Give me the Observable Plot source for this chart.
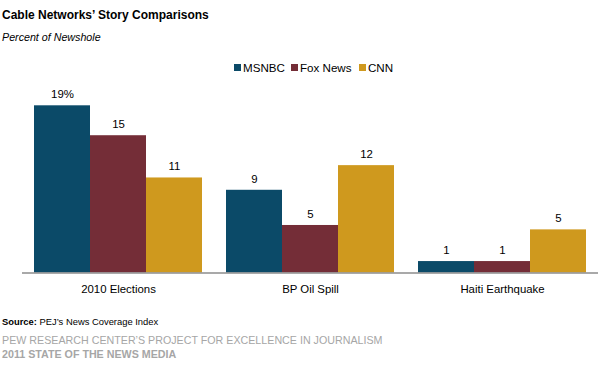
<!DOCTYPE html>
<html>
<head>
<meta charset="utf-8">
<script src="https://cdn.jsdelivr.net/npm/d3@7"></script>
<script src="https://cdn.jsdelivr.net/npm/@observablehq/plot@0.6"></script>
<style>
  html, body { margin: 0; padding: 0; background: #fff; }
  body { width: 602px; height: 375px; position: relative; overflow: hidden; font-family: "Liberation Sans", Arial, sans-serif; color: #000; }
  .abs { position: absolute; white-space: nowrap; }
  #title { left: 2px; top: 8px; font-size: 12px; font-weight: bold; }
  #subtitle { left: 2px; top: 31px; font-size: 10.7px; font-style: italic; }
  #legend { left: 0; top: 61px; width: 602px; font-size: 11.6px; }
  #legend .item { position: absolute; top: 0; }
  #legend .sw { display: inline-block; width: 7px; height: 7px; margin-right: 2px; vertical-align: 1px; }
  #chart { left: 0; top: 80px; }
  #source { left: 2px; top: 316px; font-size: 9.4px; }
  #org { left: 2px; top: 334px; font-size: 10.7px; color: #a6a6a6; }
  #edition { left: 2px; top: 348px; font-size: 10.7px; color: #a6a6a6; font-weight: bold; }
</style>
</head>
<body>
<div id="title" class="abs">Cable Networks’ Story Comparisons</div>
<div id="subtitle" class="abs">Percent of Newshole</div>
<div id="legend" class="abs"></div>
<div id="chart" class="abs"></div>
<div id="source" class="abs"><b>Source:</b> PEJ’s News Coverage Index</div>
<div id="org" class="abs">PEW RESEARCH CENTER’S PROJECT FOR EXCELLENCE IN JOURNALISM</div>
<div id="edition" class="abs">2011 STATE OF THE NEWS MEDIA</div>
<script>
const categories = ["2010 Elections", "BP Oil Spill", "Haiti Earthquake"];
const series = ["MSNBC", "Fox News", "CNN"];
const colors = ["#0b4a68", "#742d37", "#cf991e"];
// estimated bar heights
const msnbc = [19.0, 9.4, 1.3];
const fox = [15.6, 5.4, 1.3];
const cnn = [10.8, 12.2, 4.9];
// printed labels
const msnbcLabels = ["19%", "9", "1"];
const foxLabels = ["15", "5", "1"];
const cnnLabels = ["11", "12", "5"];

const valuesBySeries = [msnbc, fox, cnn];
const labelsBySeries = [msnbcLabels, foxLabels, cnnLabels];
const data = [];
categories.forEach((c, i) => {
  series.forEach((s, j) => {
    data.push({category: c, series: s, value: valuesBySeries[j][i], label: labelsBySeries[j][i]});
  });
});

// legend
const legend = document.getElementById("legend");
const legendX = [234, 291, 359];
series.forEach((s, j) => {
  const it = document.createElement("span");
  it.className = "item";
  it.style.left = legendX[j] + "px";
  it.innerHTML = `<span class="sw" style="background:${colors[j]}"></span>${s}`;
  legend.appendChild(it);
});

const chart = Plot.plot({
  width: 602,
  height: 220,
  marginTop: 0,
  marginBottom: 27.5,
  marginLeft: 21,
  marginRight: 3,
  style: {fontFamily: "Liberation Sans, Arial, sans-serif", fontSize: "11.4px", background: "white"},
  fx: {domain: categories, paddingInner: 0, paddingOuter: 0, label: null, axis: "bottom", tickSize: 0, tickPadding: 12},
  x: {domain: series, paddingInner: 0, paddingOuter: 0.2, axis: null},
  y: {domain: [0, 21.875], axis: null},
  color: {domain: series, range: colors},
  marks: [
    Plot.barY(data, {fx: "category", x: "series", y: "value", fill: "series"}),
    Plot.text(data, {fx: "category", x: "series", y: "value", text: "label", lineAnchor: "bottom", dy: -7.5, fill: "#000", fontSize: 11.4}),
    Plot.ruleY([0], {stroke: "#8c8c8c", strokeWidth: 1.5})
  ]
});
document.getElementById("chart").appendChild(chart);
</script>
</body>
</html>
